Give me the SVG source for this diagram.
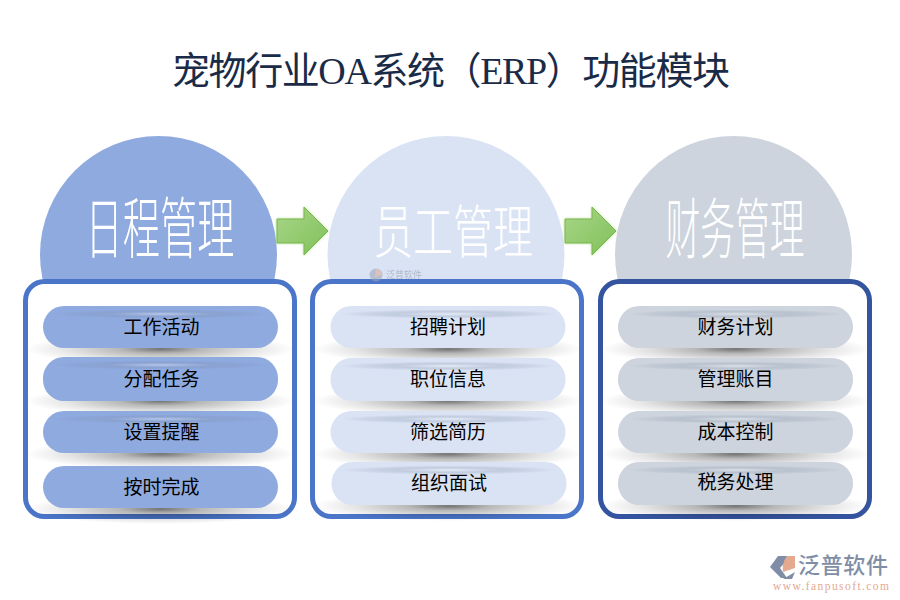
<svg xmlns="http://www.w3.org/2000/svg" width="900" height="600" viewBox="0 0 900 600">
<style>
.t{font-family:"Liberation Serif","Noto Sans CJK SC",serif;fill:#1a2b48}
.big{font-family:"Noto Sans CJK SC","Noto Sans",sans-serif;font-weight:300;fill:#fff;text-anchor:middle}
.lb{font-family:"Liberation Serif","Noto Sans CJK SC",serif;font-size:19px;fill:#000;text-anchor:middle}
.panel{fill:#fff;stroke-width:5}
.a{fill:url(#ag);stroke:#7ab648;stroke-width:1;filter:url(#gl)}
.sh{fill:url(#sg)}
.hl{fill:url(#hg)}
.wm{font-family:"Noto Sans CJK SC",sans-serif}
</style>
<defs>
<radialGradient id="sg"><stop offset="0" stop-color="#000" stop-opacity=".55"/><stop offset=".3" stop-color="#000" stop-opacity=".28"/><stop offset=".7" stop-color="#000" stop-opacity=".1"/><stop offset="1" stop-color="#000" stop-opacity="0"/></radialGradient>
<radialGradient id="hg"><stop offset="0" stop-color="#fff" stop-opacity=".35"/><stop offset=".5" stop-color="#8090a8" stop-opacity=".28"/><stop offset="1" stop-color="#607090" stop-opacity="0"/></radialGradient>
<linearGradient id="ag" x1="0" y1="0" x2="1" y2="1"><stop offset="0" stop-color="#a9d688"/><stop offset="1" stop-color="#7fc05a"/></linearGradient>
<filter id="gl" x="-20%" y="-20%" width="140%" height="140%"><feGaussianBlur in="SourceAlpha" stdDeviation="1.5" result="b"/><feFlood flood-color="#9fd47f" flood-opacity=".7"/><feComposite in2="b" operator="in"/><feMerge><feMergeNode/><feMergeNode in="SourceGraphic"/></feMerge></filter>
<g id="p"><ellipse class="sh" cx="117.500" cy="43" rx="135" ry="15"/></g>
</defs>
<rect width="900" height="600" fill="#fff"/>
<text id="title" class="t" x="172" y="84" font-size="38" textLength="558" lengthAdjust="spacing">宠物行业OA系统（ERP）功能模块</text>

<g id="col1">
<circle cx="158.500" cy="254.500" r="118.500" fill="#8faadf"/>
<text class="big" transform="translate(160 253) scale(.62 1.12)" font-size="60">日程管理</text>
<rect class="panel" x="25.500" y="281.500" width="269" height="235" rx="19" stroke="#4a75c9"/>
</g>
<g id="col2">
<circle cx="446" cy="254.500" r="118.500" fill="#dae3f4"/>
<text class="big" transform="translate(453 253) scale(.665 .96)" font-size="60">员工管理</text>
<rect class="panel" x="312.500" y="281.500" width="269" height="235" rx="19" stroke="#4a75c9"/>
</g>
<g id="col3">
<circle cx="733.500" cy="254.500" r="118.500" fill="#cdd4dd"/>
<text class="big" transform="translate(735 253) scale(.58 1.1)" font-size="60">财务管理</text>
<rect class="panel" x="600.500" y="281.500" width="269" height="235" rx="19" stroke="#34549f"/>
</g>

<g id="wm1" opacity=".55">
<circle cx="376" cy="275" r="6.500" fill="#9aa5b5"/><path d="M376 269a6.500 6.500 0 0 1 6 6l-7 2z" fill="#e2a58f"/>
<text class="wm" x="386" y="278" font-size="9" fill="#8a94a6">泛普软件</text>
</g>

<g id="shadows">
<use href="#p" x="43" y="306"/><use href="#p" x="43" y="358"/><use href="#p" x="43" y="411"/><use href="#p" x="43" y="466"/>
<use href="#p" x="330.500" y="306"/><use href="#p" x="330.500" y="358"/><use href="#p" x="330.500" y="411"/><use href="#p" x="331.500" y="463"/>
<use href="#p" x="618" y="306"/><use href="#p" x="618" y="358"/><use href="#p" x="618" y="411"/><use href="#p" x="618" y="463"/>
</g>

<g id="n1-1"><rect x="43" y="306" width="235" height="42" rx="21" fill="#8faadf"/><ellipse class="hl" cx="160.500" cy="314" rx="108" ry="4.500"/><text class="lb" x="161.500" y="334">工作活动</text></g>
<g id="n1-2"><rect x="43" y="357" width="235" height="44" rx="21" fill="#8faadf"/><ellipse class="hl" cx="160.500" cy="365" rx="108" ry="4.500"/><text class="lb" x="161.500" y="386">分配任务</text></g>
<g id="n1-3"><rect x="43" y="411" width="235" height="42" rx="21" fill="#8faadf"/><ellipse class="hl" cx="160.500" cy="419" rx="108" ry="4.500"/><text class="lb" x="161.500" y="439">设置提醒</text></g>
<g id="n1-4"><rect x="43" y="466" width="235" height="42" rx="21" fill="#8faadf"/><text class="lb" x="161.500" y="494">按时完成</text></g>

<g id="n2-1"><rect x="330.500" y="306" width="235" height="42" rx="21" fill="#dae3f4"/><ellipse class="hl" cx="448" cy="314" rx="108" ry="4.500"/><text class="lb" x="448" y="334">招聘计划</text></g>
<g id="n2-2"><rect x="330.500" y="358" width="235" height="43" rx="21" fill="#dae3f4"/><ellipse class="hl" cx="448" cy="366" rx="108" ry="4.500"/><text class="lb" x="448" y="386">职位信息</text></g>
<g id="n2-3"><rect x="330.500" y="411" width="235" height="42" rx="21" fill="#dae3f4"/><ellipse class="hl" cx="448" cy="419" rx="108" ry="4.500"/><text class="lb" x="448" y="439">筛选简历</text></g>
<g id="n2-4"><rect x="331.500" y="462" width="235" height="43" rx="21" fill="#dae3f4"/><ellipse class="hl" cx="449" cy="470" rx="108" ry="4.500"/><text class="lb" x="449" y="490">组织面试</text></g>

<g id="n3-1"><rect x="618" y="306" width="235" height="42" rx="21" fill="#cdd4dd"/><ellipse class="hl" cx="735.500" cy="314" rx="108" ry="4.500"/><text class="lb" x="735.500" y="334">财务计划</text></g>
<g id="n3-2"><rect x="618" y="358" width="235" height="43" rx="21" fill="#cdd4dd"/><ellipse class="hl" cx="735.500" cy="366" rx="108" ry="4.500"/><text class="lb" x="735.500" y="386">管理账目</text></g>
<g id="n3-3"><rect x="618" y="411" width="235" height="42" rx="21" fill="#cdd4dd"/><ellipse class="hl" cx="735.500" cy="419" rx="108" ry="4.500"/><text class="lb" x="735.500" y="439">成本控制</text></g>
<g id="n3-4"><rect x="618" y="462" width="235" height="43" rx="21" fill="#cdd4dd"/><ellipse class="hl" cx="735.500" cy="470" rx="108" ry="4.500"/><text class="lb" x="735.500" y="489">税务处理</text></g>

<g id="connectors">
<path class="a" d="M277 219H304V207L328 231 304 255V243H277Z"/>
<path class="a" d="M565 219H592V207L616 231 592 255V243H565Z"/>
</g>

<g id="logo">
<path d="M778 556H791L780 568 787 578 781 578 770 567Z" fill="#7f8ea6"/>
<path d="M787 556H795V568L783 572C782 565 784 560 787 556Z" fill="#e4a98f"/>
<path d="M783 579 795 572 792 579Z" fill="#7f8ea6"/>
<text class="wm" x="798" y="573" font-size="22" fill="#7f8ea6" textLength="90" font-weight="500">泛普软件</text>
<text x="773" y="590" font-family="Liberation Serif,serif" font-size="11.500" fill="#e4a98f" textLength="116">www.fanpusoft.com</text>
</g>
</svg>
